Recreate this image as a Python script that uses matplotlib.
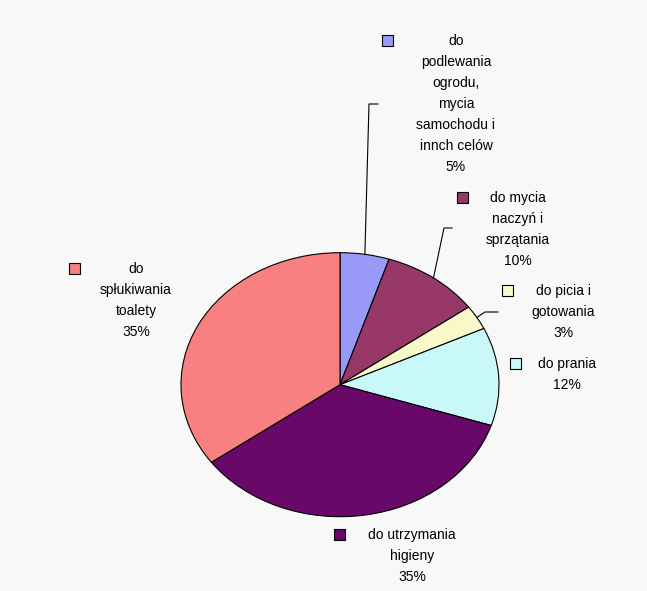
import matplotlib
matplotlib.use('Agg')
import matplotlib.pyplot as plt
import numpy as np
from matplotlib.patches import Rectangle

W, H = 647, 591

# data
shares = [5, 10, 3, 12, 35, 35]
colors = ['#9999F8', '#983868', '#F8F8C8', '#C8F8F8', '#680868', '#F88080']
label_lines = [
    ['do', 'podlewania', 'ogrodu,', 'mycia', 'samochodu i', 'innch celów', '5%'],
    ['do mycia', 'naczyń i', 'sprzątania', '10%'],
    ['do picia i', 'gotowania', '3%'],
    ['do prania', '12%'],
    ['do utrzymania', 'higieny', '35%'],
    ['do', 'spłukiwania', 'toalety', '35%'],
]

# label layout in pixels: text centre x, first line centre y, key square left x
label_pos = [(456, 40, 382), (518, 197, 457), (563, 290, 502),
             (567, 363, 510), (412, 534, 334), (136, 268, 69)]
# elbow of leader lines (pixels): (elbow x, elbow y, end x)
leaders = {0: (369, 104, 378), 1: (444, 228, 452), 2: (485, 312, 498)}

plt.rcParams['font.family'] = ['Liberation Sans', 'DejaVu Sans']

fig = plt.figure(figsize=(W / 100, H / 100), dpi=100, facecolor='#F8F8F8')

cx, cy, rx, ry = 340, 384.7, 159, 132
ax = fig.add_axes([(cx - rx) / W, 1 - (cy + ry) / H, 2 * rx / W, 2 * ry / H])
ax.set_facecolor('#F8F8F8')
wedges, _ = ax.pie(shares, colors=colors, startangle=90, counterclock=False,
                   wedgeprops=dict(edgecolor='black', linewidth=0.8))
ax.set_aspect('auto')
ax.set_xlim(-1, 1)
ax.set_ylim(-1, 1)
ax.axis('off')


def to_data(px, py):
    return (px - cx) / rx, (cy - py) / ry


# leader lines from wedge middle to elbow
start = 90.0
for i, s in enumerate(shares):
    mid = np.deg2rad(start - s * 3.6 / 2)
    start -= s * 3.6
    if i in leaders:
        ex, ey, endx = leaders[i]
        x1, y1 = to_data(ex, ey)
        x2, _ = to_data(endx, ey)
        ax.plot([np.cos(mid), x1, x2], [np.sin(mid), y1, y1], color='black',
                lw=0.8, clip_on=False)

# labels with legend keys
for i, lines in enumerate(label_lines):
    tx, ty, kx = label_pos[i]
    for j, line in enumerate(lines):
        fig.text(tx / W, 1 - (ty + 5 + 21 * j) / H, line, ha='center',
                 va='baseline', fontsize=10, color='black')
    fig.patches.append(Rectangle((kx / W, 1 - (ty + 5.5) / H), 11 / W, 11 / H,
                                 transform=fig.transFigure, facecolor=colors[i],
                                 edgecolor='black', linewidth=0.8))

fig.savefig('out.png', dpi=100, facecolor=fig.get_facecolor())
